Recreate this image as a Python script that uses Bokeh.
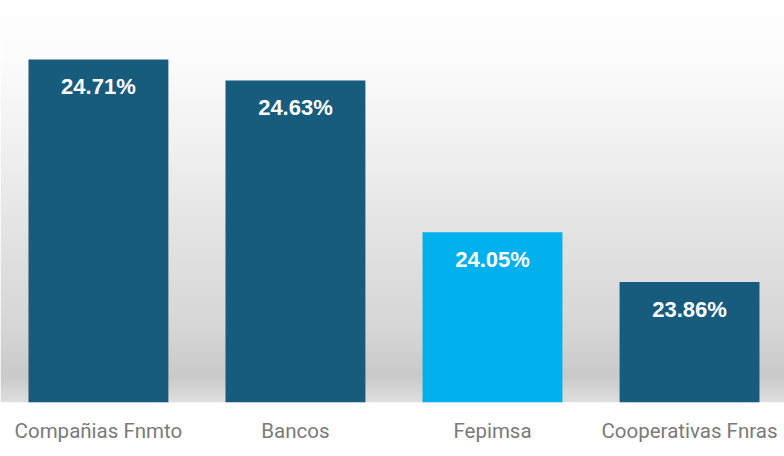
import numpy as np
from bokeh.plotting import figure
from bokeh.models import ColumnDataSource, Range1d, FixedTicker
from bokeh.core.properties import value
from bokeh.embed import file_html
from bokeh.resources import INLINE

categories = ["Compañias Fnmto", "Bancos", "Fepimsa", "Cooperativas Fnras"]
values = [24.71, 24.63, 24.05, 23.86]
labels = ["24.71%", "24.63%", "24.05%", "23.86%"]
colors = ["#175b7d", "#175b7d", "#00b1ee", "#175b7d"]

base = 23.40
x = list(range(len(categories)))

src = ColumnDataSource(dict(x=x, top=values, label=labels, color=colors,
                            bottom=[base] * len(values)))

x0, x1 = -0.497, 3.482
y0, y1 = base, 24.935

p = figure(width=784, height=456, output_backend="svg", toolbar_location=None,
           x_range=Range1d(x0, x1), y_range=Range1d(y0, y1),
           y_axis_location=None, min_border_left=0, min_border_right=0,
           min_border_top=0, min_border_bottom=54)

# background vertical gradient (pixel rows from frame top to bottom)
n = 402
rows = np.arange(n)[::-1]  # image row 0 is bottom
shade = np.interp(rows, [0, 60, 150, 250, 330, 375, 402],
                  [255, 252, 240, 225, 214, 202, 224]).astype(np.uint32)
img = np.zeros((n, 1), dtype=np.uint32)
img[:, 0] = (255 << 24) | (shade << 16) | (shade << 8) | shade
p.image_rgba(image=[img], x=x0, y=y0, dw=x1 - x0, dh=y1 - y0)

p.vbar(x="x", top="top", bottom="bottom", width=0.71, color="color",
       line_color=None, source=src)
p.text(x="x", y="top", text="label", source=src, text_color="white",
       text_font=value("Liberation Sans"), text_font_style="bold",
       text_font_size="22px", text_align="center", text_baseline="middle",
       y_offset=27)

p.xaxis.ticker = FixedTicker(ticks=x)
p.xaxis.major_label_overrides = {i: c for i, c in zip(x, categories)}
p.xaxis.axis_line_color = None
p.xaxis.major_tick_line_color = None
p.xaxis.minor_tick_line_color = None
p.xaxis.major_label_standoff = 10
p.xaxis.major_label_text_font = "Roboto"
p.xaxis.major_label_text_font_size = "20.5px"
p.xaxis.major_label_text_color = "#7a7a7a"
p.grid.visible = False
p.outline_line_color = None
p.background_fill_color = "white"
p.border_fill_color = "white"

open("out.html", "w").write(file_html(p, INLINE))
